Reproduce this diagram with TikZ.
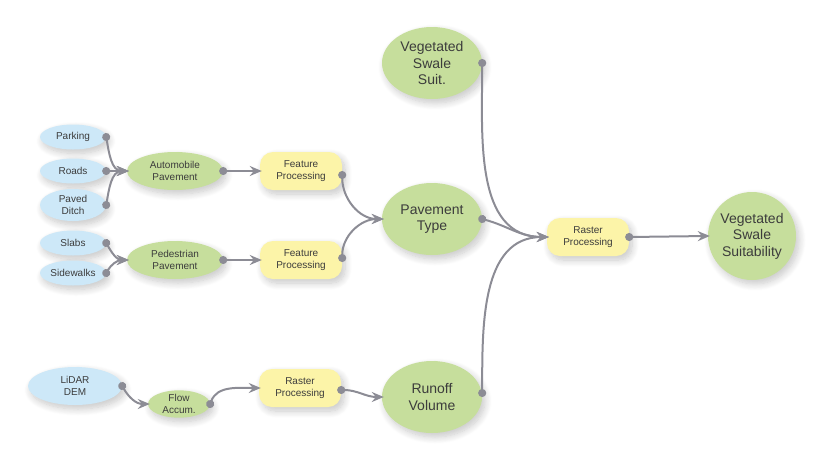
\documentclass[tikz,border=0pt]{standalone}
\usepackage{fontspec}
\setmainfont{Liberation Sans}
\usetikzlibrary{shapes.geometric,arrows.meta,shadows.blur}
\definecolor{srcblue}{HTML}{CDE8F8}
\definecolor{midgreen}{HTML}{C6DE9C}
\definecolor{toolyellow}{HTML}{FCF4A8}
\definecolor{linkgray}{HTML}{8C8C95}
\definecolor{txtgray}{HTML}{3C3C3C}
\tikzstyle{soft} = [blur shadow={shadow blur steps=10, shadow blur radius=7pt, shadow xshift=3pt, shadow yshift=-4pt, shadow opacity=22}]
\tikzstyle{link} = [draw=linkgray, line width=2pt, {Circle[length=8pt]}-{Stealth[length=12pt,width=10pt,inset=4pt]}, shorten <=-4pt, shorten >=-2pt]

\begin{document}
\begin{tikzpicture}[x=1pt,y=-1pt]
\tikzstyle{src} = [ellipse, soft, fill=srcblue, text=txtgray, font=\fontsize{10}{12}\selectfont, align=center, inner sep=0pt, minimum width=66pt, minimum height=25pt]
\tikzstyle{mid} = [ellipse, soft, fill=midgreen, text=txtgray, font=\fontsize{10}{12}\selectfont, align=center, inner sep=0pt, minimum width=96pt, minimum height=38pt]
\tikzstyle{tool} = [rectangle, rounded corners=13pt, soft, fill=toolyellow, text=txtgray, font=\fontsize{10}{12}\selectfont, align=center, inner sep=0pt, minimum width=82pt, minimum height=38pt]
\tikzstyle{big} = [ellipse, soft, fill=midgreen, text=txtgray, font=\fontsize{14}{16.5}\selectfont, align=center, inner sep=0pt, minimum width=100pt, minimum height=72pt]
\tikzstyle{final} = [circle, soft, fill=midgreen, text=txtgray, font=\fontsize{14}{16.5}\selectfont, align=center, inner sep=0pt, minimum size=88pt]
\useasboundingbox (0,0) rectangle (819,456);

% inputs
\node[src] (park) at (73,137) {Parking};
\node[src] (road) at (73,171) {Roads};
\node[src, minimum height=32pt] (ditch) at (73,205) {Paved\\Ditch};
\node[src] (slab) at (73,243) {Slabs};
\node[src] (walk) at (73,273) {Sidewalks};
\node[src, minimum width=94pt, minimum height=38pt] (lidar) at (75,386) {LiDAR\\DEM};

% intermediate data
\node[mid] (auto) at (175,171) {Automobile\\Pavement};
\node[mid] (ped) at (175,260) {Pedestrian\\Pavement};
\node[mid, minimum width=62pt, minimum height=27pt] (flow) at (179,404) {Flow\\Accum.};

% tools
\node[tool] (feat1) at (301,171) {Feature\\Processing};
\node[tool] (feat2) at (301,260) {Feature\\Processing};
\node[tool] (rast1) at (300,388) {Raster\\Processing};
\node[tool] (rast2) at (588,237) {Raster\\Processing};

% results
\node[big] (swale) at (432,63) {Vegetated\\Swale\\Suit.};
\node[big] (pave) at (432,219) {Pavement\\Type};
\node[big] (runoff) at (432,397) {Runoff\\Volume};
\node[final] (suit) at (752,236) {Vegetated\\Swale\\Suitability};

\draw[link] (park.east) to[out=-80, in=180] (auto.west);
\draw[link] (road.east) -- (auto.west);
\draw[link] (ditch.east) to[out=80, in=180] (auto.west);
\draw[link] (slab.east) to[out=-60, in=180] (ped.west);
\draw[link] (walk.east) to[out=60, in=180] (ped.west);
\draw[link] (auto.east) -- (feat1.west);
\draw[link] (ped.east) -- (feat2.west);
\draw[link] ([yshift=-4pt]feat1.east) to[out=-90, in=180] (pave.west);
\draw[link] ([yshift=2pt]feat2.east) to[out=90, in=180] (pave.west);
\draw[link] (lidar.east) to[out=-60, in=180] (flow.west);
\draw[link] (flow.east) to[out=70, in=180] (rast1.west);
\draw[link] ([yshift=-2pt]rast1.east) to[out=0, in=180] (runoff.west);
\draw[link] (swale.east) to[out=-90, in=180] (rast2.west);
\draw[link] (pave.east) to[out=-15, in=180] (rast2.west);
\draw[link] ([yshift=4pt]runoff.east) to[out=90, in=180] (rast2.west);
\draw[link] (rast2.east) -- (suit.west);
\end{tikzpicture}
\end{document}
